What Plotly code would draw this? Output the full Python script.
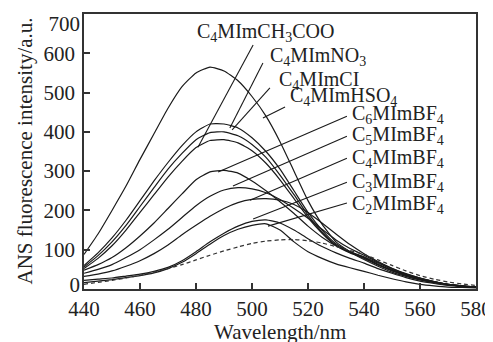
import plotly.graph_objects as go

# ---- data ----
wavelength = [440, 445, 450, 455, 460, 465, 470, 475, 480, 485, 490, 495, 500, 505, 510,
              515, 520, 525, 530, 535, 540, 545, 550, 555, 560, 565, 570, 575, 580]

c4mim_hso4 = [88, 140, 200, 262, 330, 395, 460, 515, 550, 565, 555, 530, 490, 440, 375,
              300, 225, 165, 120, 95, 75, 58, 43, 32, 23, 16, 11, 7, 5]
c4mim_no3 = [60, 92, 130, 175, 225, 275, 322, 365, 400, 420, 420, 410, 385, 350, 305,
             250, 195, 150, 115, 95, 80, 63, 48, 36, 26, 18, 12, 8, 5]
c4mim_cl = [56, 85, 120, 162, 210, 258, 305, 345, 380, 398, 400, 390, 368, 335, 290,
            240, 188, 145, 112, 93, 80, 62, 47, 35, 25, 17, 11, 7, 5]
c4mim_ch3coo = [52, 78, 110, 150, 195, 240, 285, 325, 360, 378, 380, 372, 352, 320, 278,
                230, 182, 142, 110, 92, 78, 61, 46, 34, 24, 17, 11, 7, 5]
c6mim_bf4 = [48, 62, 80, 105, 135, 168, 205, 242, 278, 298, 302, 295, 275, 250, 222,
             192, 160, 132, 110, 95, 82, 66, 50, 37, 27, 19, 12, 8, 5]
c5mim_bf4 = [40, 50, 62, 80, 100, 125, 152, 182, 212, 236, 252, 258, 255, 245, 228,
             205, 180, 152, 125, 103, 86, 68, 52, 38, 28, 19, 12, 8, 5]
c4mim_bf4 = [32, 38, 46, 58, 72, 90, 112, 138, 162, 185, 205, 220, 228, 230, 226,
             215, 195, 168, 140, 113, 90, 70, 53, 39, 28, 19, 12, 8, 5]
c3mim_bf4 = [22, 25, 28, 33, 38, 45, 55, 72, 95, 120, 142, 160, 172, 176, 168,
             150, 128, 108, 92, 78, 66, 52, 40, 29, 20, 14, 9, 6, 4]
c2mim_bf4 = [16, 20, 24, 29, 34, 41, 52, 68, 90, 114, 136, 152, 162, 166, 150,
             120, 95, 78, 64, 54, 45, 35, 26, 18, 12, 8, 5, 4, 3]
ans_buffer = [12, 17, 22, 28, 35, 43, 52, 62, 74, 86, 97, 107, 116, 122, 125,
              126, 123, 117, 108, 98, 88, 74, 60, 46, 34, 25, 18, 13, 9]

solid_series = [c4mim_hso4, c4mim_no3, c4mim_cl, c4mim_ch3coo, c6mim_bf4,
                c5mim_bf4, c4mim_bf4, c3mim_bf4, c2mim_bf4]

x_range = [440, 580]
y_range = [0, 700]
x_ticks = [440, 460, 480, 500, 520, 540, 560, 580]
y_ticks = [0, 100, 200, 300, 400, 500, 600, 700]
y_tick_text = ["", "100", "200", "300", "400", "500", "600", ""]
# the end labels "0" and "700" sit slightly inside the box in the reference
y_end_label_pos = [12, 675]
y_end_label_text = ["0", "700"]

x_title = "Wavelength/nm"
y_title = "ANS fluorescence intensity/a.u."

# label texts, text anchor (left edge, middle) and leader line (start -> end on curve)
label_texts = ["C<sub>4</sub>MImCH<sub>3</sub>COO", "C<sub>4</sub>MImNO<sub>3</sub>",
               "C<sub>4</sub>MImCI", "C<sub>4</sub>MImHSO<sub>4</sub>",
               "C<sub>6</sub>MImBF<sub>4</sub>", "C<sub>5</sub>MImBF<sub>4</sub>",
               "C<sub>4</sub>MImBF<sub>4</sub>", "C<sub>3</sub>MImBF<sub>4</sub>",
               "C<sub>2</sub>MImBF<sub>4</sub>"]
label_x = [479.6, 505.7, 508.9, 512.9, 535.0, 535.0, 535.0, 535.0, 535.0]
label_y = [652, 593, 532, 491, 443, 392, 333, 272, 216]
line_x0 = [500.4, 503.9, 506.4, 511.8, 533.9, 533.9, 533.9, 533.9, 533.9]
line_y0 = [621, 575, 512, 463, 440, 389, 333, 272, 219]
line_x1 = [480.7, 492.1, 492.9, 503.9, 487.9, 493.2, 499.3, 500.4, 505.7]
line_y1 = [361, 410, 405, 435, 298, 262, 226, 178, 160]

FONT = "Liberation Serif, Times New Roman, serif"
INK = "#222222"

fig = go.Figure()
for s in solid_series:
    fig.add_trace(go.Scatter(x=wavelength, y=s, mode="lines",
                             line=dict(color="#1a1a1a", width=1.2, shape="spline", smoothing=0.5),
                             showlegend=False, hoverinfo="skip"))
fig.add_trace(go.Scatter(x=wavelength, y=ans_buffer, mode="lines",
                         line=dict(color="#333333", width=1.2, dash="4px,3px", shape="spline", smoothing=0.5),
                         showlegend=False, hoverinfo="skip"))
# invisible helper trace so the overlay axis carrying the end labels is drawn
fig.add_trace(go.Scatter(x=[wavelength[0]], y=[y_range[0]], yaxis="y2", mode="markers",
                         marker=dict(opacity=0), showlegend=False, hoverinfo="skip"))

for i in range(len(label_texts)):
    fig.add_shape(type="line", xref="x", yref="y",
                  x0=line_x0[i], y0=line_y0[i], x1=line_x1[i], y1=line_y1[i],
                  line=dict(color="#1a1a1a", width=1.1))
    fig.add_annotation(x=label_x[i], y=label_y[i], xref="x", yref="y", text=label_texts[i],
                       showarrow=False, xanchor="left", yanchor="middle",
                       font=dict(family=FONT, size=20, color=INK))

# axis titles placed as annotations for exact positioning
fig.add_annotation(x=0.5, y=-0.155, xref="paper", yref="paper", text=x_title,
                   showarrow=False, xanchor="center", yanchor="middle",
                   font=dict(family=FONT, size=21, color=INK))
fig.add_annotation(x=-0.153, y=0.5, xref="paper", yref="paper", text=y_title,
                   showarrow=False, xanchor="center", yanchor="middle", textangle=-90,
                   font=dict(family=FONT, size=21, color=INK))

axis_common = dict(showline=True, linecolor="#333333", linewidth=1.5, mirror=True,
                   ticks="inside", ticklen=6, tickwidth=1.5, tickcolor="#333333",
                   showgrid=False, zeroline=False, automargin=False,
                   tickfont=dict(family=FONT, size=21, color=INK))

fig.update_xaxes(range=x_range, tickvals=x_ticks, **axis_common)
fig.update_yaxes(range=y_range, tickvals=y_ticks, ticktext=y_tick_text, ticklabelstandoff=3,
                 **axis_common)

# the page has an 8px body margin, so the plot box is offset to land at the reference position
fig.update_layout(width=493, height=342, margin=dict(l=76, r=25, t=6, b=61),
                  plot_bgcolor="white", paper_bgcolor="white", showlegend=False,
                  yaxis2=dict(overlaying="y", side="left", anchor="x", range=y_range,
                              tickvals=y_end_label_pos, ticktext=y_end_label_text,
                              ticks="", showline=False, showgrid=False, zeroline=False,
                              automargin=False, ticklabelstandoff=3,
                              tickfont=dict(family=FONT, size=21, color=INK)))

fig.write_html("out.html")
